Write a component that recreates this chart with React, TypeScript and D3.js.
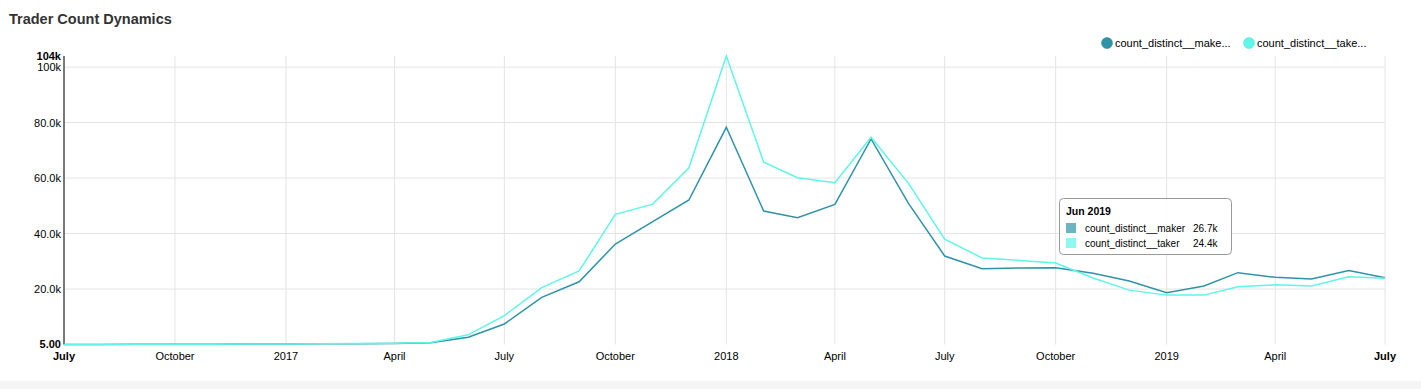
import * as d3 from 'd3';

// monthly points, July 2016 .. July 2019
const months = d3.timeMonth.range(new Date(2016, 6, 1), new Date(2019, 6, 2));

const makerValues = [
  5, 30, 60, 90, 120, 150, 180, 230, 300, 400, 650, 2600,
  7400, 17000, 22600, 36200, 44300, 52100,
  78300, 48100, 45700, 50500, 74100, 50900, 31900, 27300, 27600, 27700, 25700, 22900,
  18700, 21100, 25900, 24200, 23600, 26700, 24100,
];

const takerValues = [
  5, 30, 60, 90, 120, 150, 190, 240, 320, 420, 700, 3500,
  10400, 20500, 26500, 46900, 50600, 63700,
  104000, 65700, 60100, 58300, 74700, 58100, 38000, 31200, 30300, 29400, 24000, 19600,
  17800, 17800, 20800, 21500, 21100, 24400, 23900,
];

const seriesNames = ['count_distinct__maker', 'count_distinct__taker'];
const legendLabels = ['count_distinct__make...', 'count_distinct__take...'];
const seriesColors = ['#2f93a8', '#5ff5e8'];
const swatchColors = ['#6db3c2', '#8ef8ee'];

const yTicks = [20000, 40000, 60000, 80000, 100000];
const yBounds = [5, 104000];

const xTickDates = d3.timeMonth.every(3)!.range(new Date(2016, 6, 1), new Date(2019, 6, 2));

const tooltipTitle = 'Jun 2019';
const tooltipValues = ['26.7k', '24.4k'];

const W = 1421;
const H = 389;
const FONT = '"Liberation Sans", Arial, Helvetica, sans-serif';

export default function App() {
  const left = 64;
  const right = 1385;
  const top = 56;
  const bottom = 344.5;

  const x = d3.scaleTime().domain([months[0], months[months.length - 1]]).range([left, right]);
  const y = d3.scaleLinear().domain([0, yBounds[1]]).range([bottom, top]);

  const line = d3
    .line<number>()
    .x((_, i) => x(months[i]))
    .y((d) => y(d));

  const fmtTick = (d: Date) =>
    d.getMonth() === 0 ? d3.timeFormat('%Y')(d) : d3.timeFormat('%B')(d);
  const fmtY = (v: number) => d3.format('.3s')(v);

  const data = [makerValues, takerValues];

  return (
    <svg
      width={W}
      height={H}
      style={{ position: 'absolute', left: 0, top: 0, fontFamily: FONT }}
    >
      <rect x={0} y={0} width={W} height={H} fill="#fff" />
      <rect x={0} y={381} width={W} height={8} fill="#f5f5f5" />

      <text x={9} y={24} fontSize={14.5} fontWeight="bold" fill="#333">
        Trader Count Dynamics
      </text>

      {/* legend */}
      {legendLabels.map((l, i) => (
        <g key={l} transform={`translate(${1107 + i * 142},43)`}>
          <circle r={5.5} fill={seriesColors[i]} stroke={i === 0 ? '#2a8296' : '#4fe3d6'} strokeWidth={0.5} />
          <text x={8} y={4} fontSize={11} fill="#000">
            {l}
          </text>
        </g>
      ))}

      {/* grid */}
      {yTicks.map((t) => (
        <line key={t} x1={left} x2={right} y1={y(t)} y2={y(t)} stroke="#e4e4e4" strokeWidth={1} />
      ))}
      {xTickDates.map((d, i) => (
        <line
          key={i}
          x1={x(d)}
          x2={x(d)}
          y1={top}
          y2={bottom}
          stroke="#e4e4e4"
          strokeWidth={1}
        />
      ))}

      {/* y axis */}
      <line x1={left} x2={left} y1={top} y2={bottom} stroke="#000" strokeWidth={1} />
      {yTicks.map((t) => (
        <text key={t} x={left - 3} y={y(t) + 4} fontSize={11} textAnchor="end" fill="#000">
          {fmtY(t)}
        </text>
      ))}
      <text x={left - 3} y={y(yBounds[1]) + 4} fontSize={11} fontWeight="bold" textAnchor="end" fill="#000">
        104k
      </text>
      <text x={left - 3} y={y(yBounds[0]) + 4} fontSize={11} fontWeight="bold" textAnchor="end" fill="#000">
        {d3.format('.2f')(yBounds[0])}
      </text>

      {/* x axis labels */}
      {xTickDates.map((d, i) => {
        const edge = i === 0 || i === xTickDates.length - 1;
        return (
          <text
            key={i}
            x={x(d)}
            y={360}
            fontSize={11}
            textAnchor="middle"
            fontWeight={edge ? 'bold' : 'normal'}
            fill="#000"
          >
            {fmtTick(d)}
          </text>
        );
      })}

      {/* lines */}
      {data.map((vals, i) => (
        <path
          key={seriesNames[i]}
          d={line(vals) || ''}
          fill="none"
          stroke={seriesColors[i]}
          strokeWidth={1.5}
        />
      ))}

      {/* tooltip */}
      <g transform="translate(1059,198)">
        <rect x={0.5} y={0.5} width={172} height={56} rx={4} fill="#fff" fillOpacity={0.9} stroke="#999" />
        <text x={7} y={17} fontSize={10.5} fontWeight="bold" fill="#000">
          {tooltipTitle}
        </text>
        {seriesNames.map((n, i) => (
          <g key={n} transform={`translate(7,${25 + i * 15})`}>
            <rect width={10} height={10} fill={swatchColors[i]} />
            <text x={19} y={9} fontSize={10} fill="#000">
              {n}
            </text>
            <text x={127} y={9} fontSize={10} fill="#000">
              {tooltipValues[i]}
            </text>
          </g>
        ))}
      </g>
    </svg>
  );
}
